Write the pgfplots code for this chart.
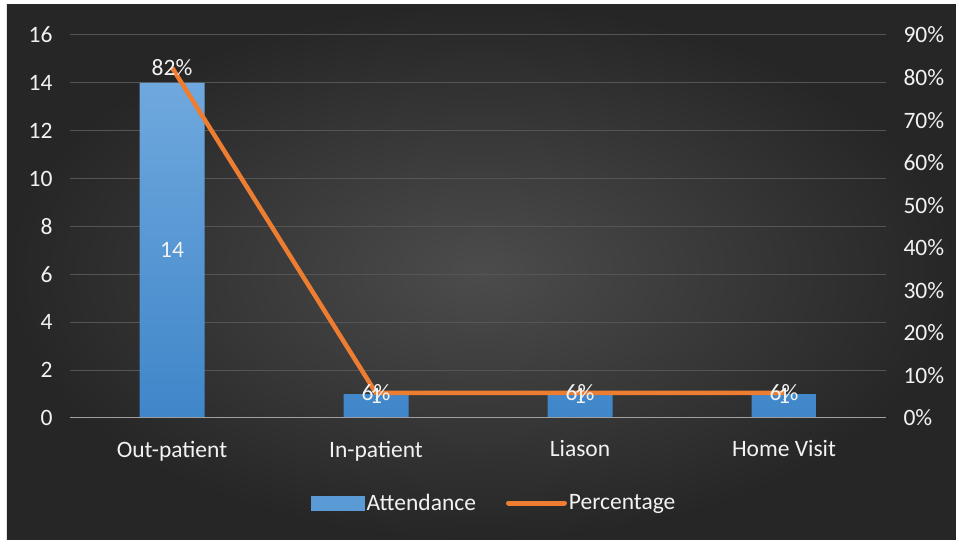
\documentclass[border=0pt]{standalone}
\usepackage{fontspec}
\setmainfont{Carlito}
\usepackage{pgfplots}
\pgfplotsset{compat=1.18}
\definecolor{bartop}{HTML}{6FA8DE}
\definecolor{barbot}{HTML}{3F86C9}
\definecolor{barblue}{HTML}{5B9BD5}
\definecolor{lineorange}{HTML}{ED7D31}
\definecolor{gridc}{HTML}{555555}
\definecolor{axisc}{HTML}{A0A0A0}
\definecolor{txt}{HTML}{F2F2F2}
\definecolor{bgin}{HTML}{4C4C4C}
\definecolor{bgout}{HTML}{262626}
\begin{document}
\begin{tikzpicture}[x=1bp,y=1bp]
\useasboundingbox (-70,-122) rectangle (886,418);
\fill[white] (-70,-122) rectangle (886,418);
\shade[inner color=bgin, outer color=bgout] (-63,-122) rectangle (886,413);
\pgfplotsset{
  common/.style={
    at={(0,0)}, anchor=south west, scale only axis,
    width=816bp, height=383bp,
    xmin=-0.5, xmax=3.5,
    axis line style={draw=none},
    tick style={draw=none},
    ticklabel style={font=\fontsize{23.5bp}{28bp}\selectfont, text=txt},
    /pgf/number format/assume math mode=true,
  }
}
\begin{axis}[common,
  ymin=0, ymax=16, ytick={0,2,...,16},
  ymajorgrids, grid style={gridc, line width=1bp},
  xtick={0,1,2,3}, xticklabels={Out-patient,In-patient,Liason,Home Visit},
  xticklabel style={yshift=-15bp},
  yticklabel style={xshift=-14bp},
  ybar, bar width=65bp,
]
\addplot[draw=none, top color=bartop, bottom color=barbot] coordinates {(0,14) (1,1) (2,1) (3,1)};
\draw[axisc, line width=2bp] (axis cs:-0.5,0) -- (axis cs:3.5,0);
\end{axis}
\begin{axis}[common,
  ymin=0, ymax=90, ytick={0,10,...,90},
  yticklabel={\pgfmathprintnumber{\tick}\%},
  yticklabel pos=right,
  yticklabel style={xshift=14bp},
  xtick=\empty,
  legend style={at={(0.52,-0.222)}, anchor=center, draw=none, fill=none,
    legend columns=2, text=txt, font=\fontsize{23.5bp}{28bp}\selectfont,
    /tikz/every even column/.append style={column sep=28bp}},
]
\addlegendimage{legend image code/.code={\fill[barblue] (0bp,-7bp) rectangle (53bp,7bp);}}
\addlegendentry{Attendance}
\addplot[lineorange, line width=4.5bp, mark=none,
  legend image code/.code={\draw[lineorange, line width=5bp, line cap=round] (0bp,0bp) -- (56bp,0bp);}]
  coordinates {(0,82.35) (1,5.88) (2,5.88) (3,5.88)};
\addlegendentry{Percentage}
\addplot[draw=none, mark=none, forget plot, nodes near coords, point meta=explicit symbolic,
  every node near coord/.append style={anchor=center, text=txt, font=\fontsize{23.5bp}{28bp}\selectfont}]
  coordinates {(0,39.4)[14] (1,5.3)[1] (2,5.3)[1] (3,5.3)[1]};
\addplot[draw=none, mark=none, forget plot, nodes near coords, point meta=explicit symbolic,
  every node near coord/.append style={anchor=center, text=txt, font=\fontsize{23.5bp}{28bp}\selectfont}]
  coordinates {(0,82.35)[82\%] (1,5.88)[6\%] (2,5.88)[6\%] (3,5.88)[6\%]};
\end{axis}
\end{tikzpicture}
\end{document}
